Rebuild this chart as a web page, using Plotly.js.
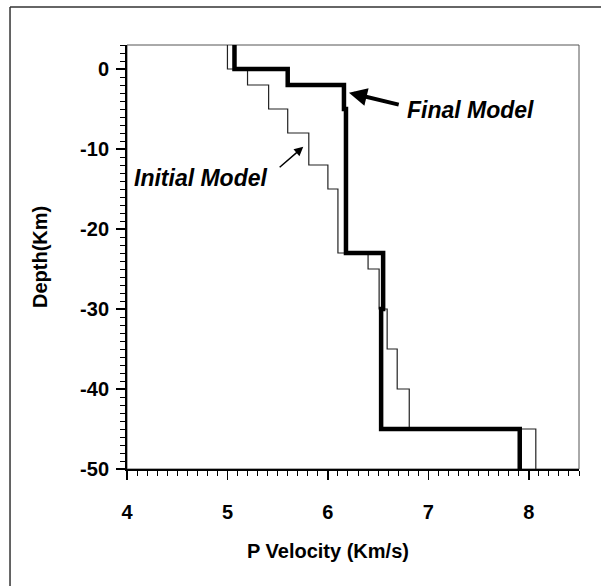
<!DOCTYPE html>
<html>
<head>
<meta charset="utf-8">
<script src="https://cdn.plot.ly/plotly-3.0.1.min.js"></script>
<style>
html,body{margin:0;padding:0;background:#fff;}
#chart{width:601px;height:586px;}
</style>
</head>
<body>
<div id="chart"></div>
<script>
// Layer velocities (km/s) and layer boundary depths (km)
const initialVelocity = [5.0, 5.2, 5.41, 5.6, 5.81, 6.0, 6.1, 6.4, 6.51, 6.59, 6.69, 6.81, 8.07];
const initialBoundaries = [3, 0, -2, -5, -8, -12, -15, -23, -25, -30, -35, -40, -45, -50];
const finalVelocity = [5.07, 5.6, 6.16, 6.18, 6.55, 6.53, 7.91];
const finalBoundaries = [3, 0, -2, -5, -23, -30, -45, -50];
const xTickVals = [4, 5, 6, 7, 8];
const yTickVals = [0, -10, -20, -30, -40, -50];
const xTitle = 'P Velocity (Km/s)';
const yTitle = 'Depth(Km)';

function steps(vel, bnd) {
  const x = [], y = [];
  for (let i = 0; i < vel.length; i++) {
    x.push(vel[i], vel[i]);
    y.push(bnd[i], bnd[i + 1]);
  }
  return {x, y};
}
const ini = steps(initialVelocity, initialBoundaries);
const fin = steps(finalVelocity, finalBoundaries);

const FONT = 'Liberation Sans, Arial, sans-serif';

const traces = [
  {x: ini.x, y: ini.y, mode: 'lines', line: {color: '#222', width: 1.2}, name: 'Initial Model', hoverinfo: 'skip'},
  {x: fin.x, y: fin.y, mode: 'lines', line: {color: '#000', width: 4.5}, name: 'Final Model', hoverinfo: 'skip'}
];

const axisCommon = {
  showgrid: false, zeroline: false, showline: true, linecolor: '#000', linewidth: 2,
  ticks: 'outside', ticklen: 9, tickwidth: 1.5, tickcolor: '#000',
  tickfont: {family: FONT, size: 20, color: '#000', weight: 'bold'}
};

const layout = {
  width: 601, height: 586,
  margin: {l: 127, r: 22, t: 45, b: 117},
  paper_bgcolor: '#fff', plot_bgcolor: '#fff',
  showlegend: false,
  xaxis: Object.assign({}, axisCommon, {
    range: [4, 8.5], tickvals: xTickVals, ticktext: xTickVals.map(String),
    ticklabelstandoff: 15,
    minor: {dtick: 0.1, ticks: 'outside', ticklen: 5, tickwidth: 1, tickcolor: '#000'}
  }),
  yaxis: Object.assign({}, axisCommon, {
    range: [-50, 3], tickvals: yTickVals, ticktext: yTickVals.map(String),
    ticklabelstandoff: 3,
    minor: {dtick: 1, ticks: 'outside', ticklen: 5, tickwidth: 1, tickcolor: '#000'}
  }),
  shapes: [
    {type: 'rect', xref: 'paper', yref: 'paper', x0: 0, x1: 1, y0: 0, y1: 1, line: {color: '#555', width: 1}, layer: 'below'},
    {type: 'line', xref: 'paper', yref: 'paper', x0: -0.2588, x1: -0.2588, y0: 1.0896, y1: -0.28, line: {color: '#333', width: 1.5}},
    {type: 'line', xref: 'paper', yref: 'paper', x0: -0.2588, x1: 1.06, y0: 1.0896, y1: 1.0896, line: {color: '#333', width: 1.5}}
  ],
  annotations: [
    {xref: 'paper', yref: 'paper', x: 0.4447, y: -0.1934, xanchor: 'center', yanchor: 'middle', showarrow: false,
     text: '<b>' + xTitle + '</b>', font: {family: FONT, size: 20, color: '#000'}},
    {xref: 'paper', yref: 'paper', x: -0.1925, y: 0.5, xanchor: 'center', yanchor: 'middle', showarrow: false, textangle: -90,
     text: '<b>' + yTitle + '</b>', font: {family: FONT, size: 20, color: '#000'}},
    {x: 6.21, y: -2.96, ax: 6.72, ay: -4.5, axref: 'x', ayref: 'y', xref: 'x', yref: 'y',
     showarrow: true, arrowhead: 2, arrowsize: 0.9, arrowwidth: 4, arrowcolor: '#000', text: ''},
    {x: 6.766, y: -5.14, xref: 'x', yref: 'y', xanchor: 'left', yanchor: 'middle', showarrow: false,
     text: '<b><i>Final Model</i></b>', font: {family: FONT, size: 23, color: '#000'}},
    {x: 5.755, y: -9.73, ax: 5.505, ay: -12.44, axref: 'x', ayref: 'y', xref: 'x', yref: 'y',
     showarrow: true, arrowhead: 2, arrowsize: 1.2, arrowwidth: 1.5, arrowcolor: '#000', text: ''},
    {x: 5.423, y: -13.66, xref: 'x', yref: 'y', xanchor: 'right', yanchor: 'middle', showarrow: false,
     text: '<b><i>Initial Model</i></b>', font: {family: FONT, size: 23, color: '#000'}}
  ]
};

Plotly.newPlot('chart', traces, layout, {displayModeBar: false, staticPlot: true});
</script>
</body>
</html>
